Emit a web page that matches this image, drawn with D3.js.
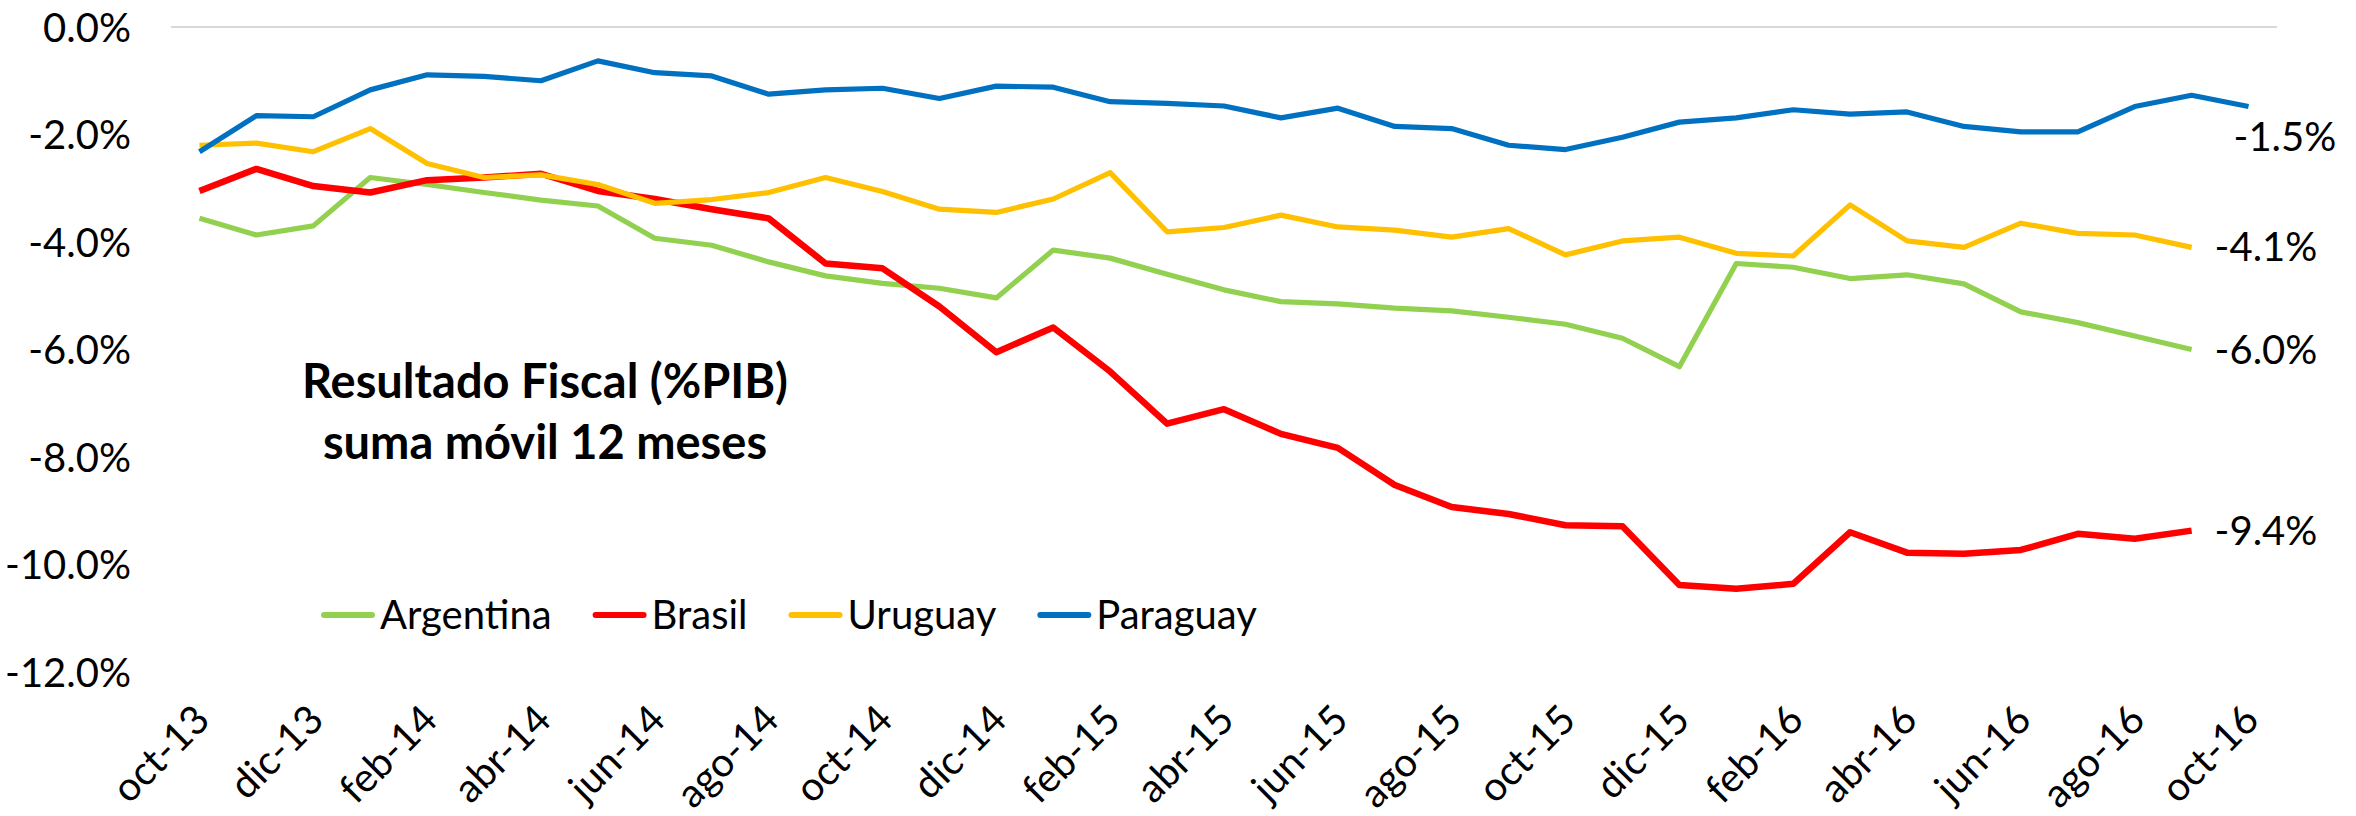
<!DOCTYPE html>
<html>
<head>
<meta charset="utf-8">
<script src="https://cdn.jsdelivr.net/npm/d3@7/dist/d3.min.js"></script>
<style>
  body { margin: 0; background: #fff; }
  text { font-family: Lato, "Open Sans", sans-serif; fill: #000; }
</style>
</head>
<body>
<script>
// months oct-13 .. oct-16
var months = ["oct-13","nov-13","dic-13","ene-14","feb-14","mar-14","abr-14","may-14","jun-14","jul-14","ago-14","sep-14",
              "oct-14","nov-14","dic-14","ene-15","feb-15","mar-15","abr-15","may-15","jun-15","jul-15","ago-15","sep-15",
              "oct-15","nov-15","dic-15","ene-16","feb-16","mar-16","abr-16","may-16","jun-16","jul-16","ago-16","sep-16","oct-16"];

var argentina = [-3.56,-3.87,-3.70,-2.80,-2.93,-3.08,-3.22,-3.33,-3.93,-4.06,-4.37,-4.63,-4.77,-4.86,-5.04,-4.15,-4.30,-4.60,
                 -4.89,-5.11,-5.15,-5.23,-5.28,-5.40,-5.53,-5.79,-6.32,-4.40,-4.47,-4.68,-4.61,-4.78,-5.30,-5.50,-5.75,-6.00];
var brasil    = [-3.05,-2.64,-2.96,-3.08,-2.85,-2.80,-2.73,-3.05,-3.20,-3.39,-3.56,-4.40,-4.49,-5.20,-6.05,-5.59,-6.41,-7.38,
                 -7.11,-7.57,-7.83,-8.52,-8.93,-9.06,-9.27,-9.29,-10.38,-10.45,-10.36,-9.40,-9.78,-9.80,-9.73,-9.43,-9.52,-9.37];
var uruguay   = [-2.20,-2.16,-2.32,-1.89,-2.54,-2.80,-2.75,-2.93,-3.28,-3.21,-3.08,-2.80,-3.06,-3.39,-3.45,-3.20,-2.71,-3.81,
                 -3.73,-3.50,-3.72,-3.78,-3.91,-3.75,-4.24,-3.98,-3.91,-4.21,-4.26,-3.31,-3.98,-4.10,-3.65,-3.84,-3.87,-4.10];
var paraguay  = [-2.32,-1.65,-1.67,-1.17,-0.89,-0.92,-1.00,-0.63,-0.85,-0.91,-1.25,-1.17,-1.14,-1.33,-1.10,-1.12,-1.39,-1.42,
                 -1.47,-1.69,-1.51,-1.85,-1.89,-2.20,-2.28,-2.05,-1.77,-1.69,-1.54,-1.62,-1.58,-1.85,-1.95,-1.95,-1.48,-1.27,-1.48];

var seriesNames  = ["Argentina", "Brasil", "Uruguay", "Paraguay"];
var seriesColors = ["#92D050", "#FF0000", "#FFC000", "#0070C0"];
var yTicks = [0, -2, -4, -6, -8, -10, -12];
var titleLines = ["Resultado Fiscal (%PIB)", "suma móvil 12 meses"];

var width = 2356,
    height = 816;

var series = [argentina, brasil, uruguay, paraguay].map(function(vals, i) {
    return { name: seriesNames[i], color: seriesColors[i], values: vals };
});

var pct = d3.formatLocale({decimal: ".", thousands: ",", grouping: [3], currency: ["$", ""], minus: "-"}).format(".1f");
function fmt(v) { return pct(v) + "%"; }

var svg = d3.select("body").append("svg")
    .attr("width", width)
    .attr("height", height)
    .style("display", "block");

var x = d3.scalePoint()
    .domain(months)
    .range([171, 2277])
    .padding(0.5);

var y = d3.scaleLinear()
    .domain([-12, 0])
    .range([672, 27]);

// axis line at 0
svg.append("line")
    .attr("x1", x.range()[0]).attr("x2", x.range()[1])
    .attr("y1", y(0)).attr("y2", y(0))
    .attr("stroke", "#d9d9d9")
    .attr("stroke-width", 2);

// y labels
var yAxis = d3.axisLeft(y)
    .tickValues(yTicks)
    .tickSize(0)
    .tickPadding(0)
    .tickFormat(fmt);

svg.append("g")
    .attr("transform", "translate(131,0)")
    .call(yAxis)
    .call(function(g) {
        g.select(".domain").remove();
        g.selectAll("text")
            .attr("font-size", 40)
            .attr("font-family", "Lato, sans-serif")
            .attr("fill", "#000")
            .attr("dy", "0.35em");
    });

// x labels, every 2nd month
var xAxis = d3.axisBottom(x)
    .tickValues(months.filter(function(d, i) { return i % 2 === 0; }))
    .tickSize(0)
    .tickPadding(0);

svg.append("g")
    .call(xAxis)
    .call(function(g) {
        g.select(".domain").remove();
        g.selectAll(".tick text")
            .attr("font-size", 40)
            .attr("font-family", "Lato, sans-serif")
            .attr("fill", "#000")
            .attr("text-anchor", "end")
            .attr("x", 0).attr("y", 0).attr("dy", 0)
            .attr("transform", "translate(12,722) rotate(-45)");
    });

// lines
var line = d3.line()
    .x(function(d, i) { return x(months[i]); })
    .y(function(d) { return y(d); });

svg.selectAll(".serie")
    .data(series)
    .enter().append("path")
    .attr("class", "serie")
    .attr("fill", "none")
    .attr("stroke", function(d) { return d.color; })
    .attr("stroke-width", function(d) { return d.name === "Brasil" ? 6.5 : 5.2; })
    .attr("stroke-linejoin", "round")
    .attr("d", function(d) { return line(d.values); });

// end labels
svg.selectAll(".endlabel")
    .data(series)
    .enter().append("text")
    .attr("class", "endlabel")
    .attr("font-size", 40)
    .attr("dy", "0.35em")
    .attr("x", function(d) {
        var n = d.values.length - 1;
        return x(months[n]) + (d.name === "Paraguay" ? -15 : 23);
    })
    .attr("y", function(d) {
        var n = d.values.length - 1;
        return y(d.values[n]) + (d.name === "Paraguay" ? 30 : 0);
    })
    .text(function(d) { return fmt(d.values[d.values.length - 1]); });

// title
svg.append("text")
    .attr("x", 545)
    .attr("y", 398)
    .attr("text-anchor", "middle")
    .attr("font-size", 47)
    .attr("font-weight", "bold")
    .selectAll("tspan")
    .data(titleLines)
    .enter().append("tspan")
    .attr("x", 545)
    .attr("dy", function(d, i) { return i ? 61 : 0; })
    .text(function(d) { return d; });

// legend
var legend = svg.append("g").attr("transform", "translate(321,615)");
var lx = 0;
series.forEach(function(s) {
    var g = legend.append("g").attr("transform", "translate(" + lx + ",0)");
    g.append("line")
        .attr("x1", 3).attr("x2", 51)
        .attr("stroke", s.color)
        .attr("stroke-width", 6)
        .attr("stroke-linecap", "round");
    var t = g.append("text")
        .attr("x", 59)
        .attr("dy", "0.35em")
        .attr("font-size", 40)
        .text(s.name);
    lx += 59 + t.node().getComputedTextLength() + 41;
});
</script>
</body>
</html>
